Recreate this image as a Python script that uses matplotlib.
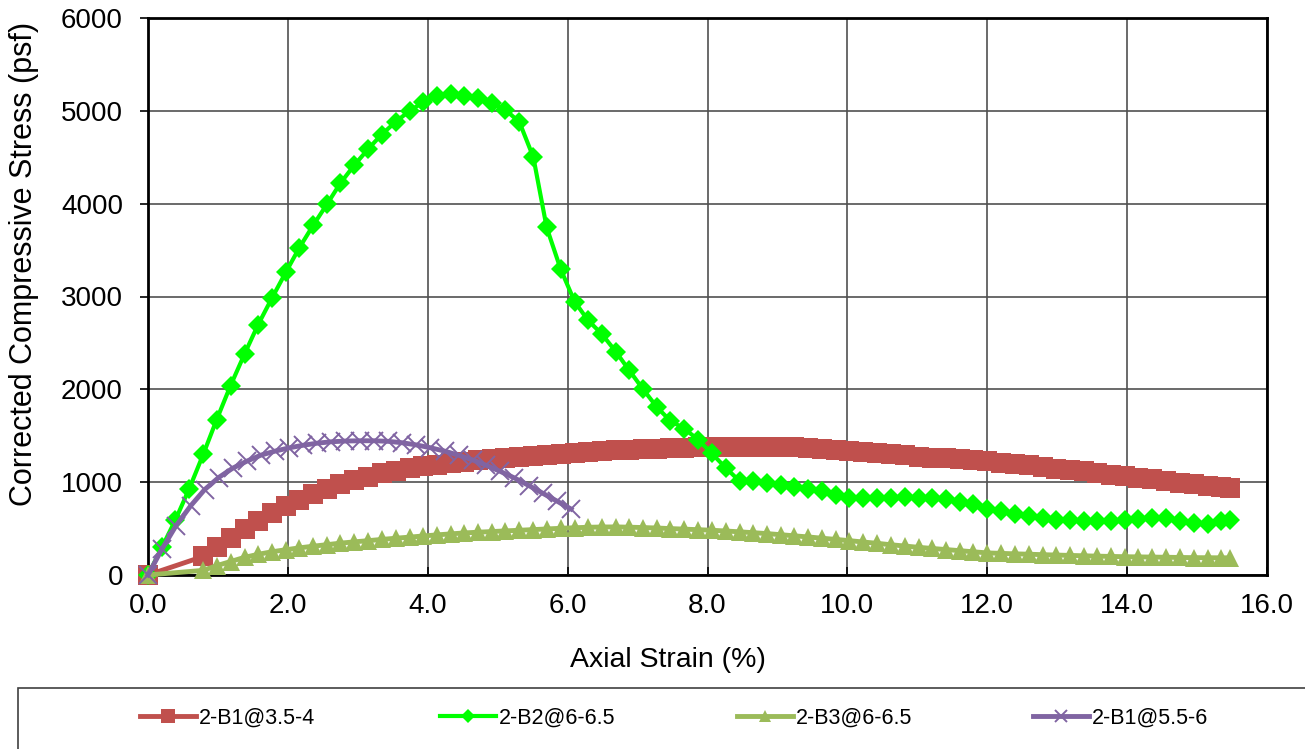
import matplotlib.pyplot as plt
from matplotlib.patches import Rectangle

plt.rcParams['font.family'] = ['Liberation Sans', 'DejaVu Sans']

# Axial strain (%) at each reading, shared by the first three specimens
strain = [0.00, 0.20, 0.39, 0.59, 0.79, 0.98, 1.18, 1.38, 1.57, 1.77,
          1.97, 2.16, 2.36, 2.56, 2.75, 2.95, 3.15, 3.34, 3.54, 3.74,
          3.93, 4.13, 4.33, 4.52, 4.72, 4.92, 5.11, 5.31, 5.51, 5.70,
          5.90, 6.10, 6.29, 6.49, 6.69, 6.88, 7.08, 7.28, 7.47, 7.67,
          7.87, 8.06, 8.26, 8.46, 8.65, 8.85, 9.05, 9.24, 9.44, 9.64,
          9.84, 10.03, 10.23, 10.43, 10.62, 10.82, 11.02, 11.21, 11.41, 11.61,
          11.80, 12.00, 12.20, 12.39, 12.59, 12.79, 12.98, 13.18, 13.38, 13.57,
          13.77, 13.97, 14.16, 14.36, 14.56, 14.75, 14.95, 15.15, 15.34, 15.47]

# 2-B1@3.5-4 : first reading at zero, then from 0.79 % onward
b1_35_strain = [strain[0]] + strain[4:]
b1_35_stress = [0,
                200, 300, 400, 495, 585, 665, 740, 810, 870, 925,
                975, 1020, 1060, 1095, 1125, 1150, 1172, 1190, 1207, 1221,
                1234, 1246, 1258, 1270, 1283, 1296, 1308, 1318, 1327, 1335,
                1343, 1350, 1356, 1361, 1366, 1370, 1374, 1377, 1380, 1382,
                1383, 1382, 1380, 1374, 1365, 1355, 1344, 1333, 1322, 1311,
                1300, 1288, 1276, 1265, 1255, 1245, 1235, 1225, 1210, 1195,
                1180, 1163, 1147, 1131, 1115, 1098, 1081, 1065, 1048, 1030,
                1012, 994, 975, 958, 945, 935]

# 2-B2@6-6.5
b2_stress = [0, 300, 590, 930, 1300, 1670, 2040, 2380, 2690, 2980,
             3260, 3520, 3765, 3995, 4220, 4415, 4590, 4745, 4880, 5000,
             5090, 5160, 5180, 5160, 5135, 5085, 5010, 4880, 4500, 3745,
             3295, 2945, 2745, 2595, 2405, 2205, 2000, 1805, 1660, 1575,
             1455, 1310, 1155, 1010, 1010, 990, 965, 950, 930, 900,
             865, 830, 833, 828, 833, 835, 833, 828, 815, 790,
             760, 715, 688, 660, 636, 611, 595, 592, 583, 582,
             582, 590, 600, 617, 617, 582, 555, 553, 580, 590]

# 2-B3@6-6.5 : same reading pattern as 2-B1@3.5-4
b3_strain = [strain[0]] + strain[4:]
b3_stress = [0,
             50, 100, 145, 190, 222, 250, 272, 292, 310, 327,
             343, 357, 370, 383, 396, 408, 420, 432, 443, 453,
             461, 468, 475, 482, 489, 496, 503, 509, 514, 517,
             518, 515, 511, 506, 500, 494, 488, 482, 474, 465,
             456, 446, 434, 422, 410, 396, 383, 370, 355, 341,
             326, 312, 298, 286, 274, 262, 250, 238, 233, 228,
             224, 219, 215, 211, 207, 203, 200, 197, 195, 193,
             191, 189, 187, 186, 185, 185]

# 2-B1@5.5-6
b1_55_strain = [0.00, 0.20, 0.40, 0.61, 0.81, 1.01, 1.21, 1.41, 1.61, 1.82,
                2.02, 2.22, 2.42, 2.62, 2.82, 3.03, 3.23, 3.43, 3.63, 3.83,
                4.03, 4.24, 4.44, 4.64, 4.84, 5.04, 5.24, 5.45, 5.65, 5.85,
                6.05]
b1_55_stress = [0, 280, 530, 745, 920, 1050, 1150, 1225, 1290, 1335,
                1370, 1398, 1420, 1435, 1443, 1446, 1446, 1440, 1425, 1402,
                1372, 1335, 1290, 1240, 1180, 1115, 1045, 962, 878, 795,
                710]

labels = ['2-B1@3.5-4', '2-B2@6-6.5', '2-B3@6-6.5', '2-B1@5.5-6']

fig = plt.figure(figsize=(13.05, 7.49), dpi=100)
ax = fig.add_axes([148 / 1305, 1 - 575 / 749, (1267 - 148) / 1305, (575 - 18) / 749])

l1, = ax.plot(b1_35_strain, b1_35_stress, color='#C0504D', lw=3.5, marker='s',
              markersize=15, markeredgewidth=0, clip_on=False, zorder=3)
l2, = ax.plot(strain, b2_stress, color='#00FF00', lw=3, marker='D',
              markersize=10.5, markeredgewidth=0, clip_on=False, zorder=4)
l3, = ax.plot(b3_strain, b3_stress, color='#9BBB59', lw=3.5, marker='^',
              markersize=13, markeredgewidth=0, clip_on=False, zorder=5)
l4, = ax.plot(b1_55_strain, b1_55_stress, color='#8064A2', lw=3.5, marker='x',
              markersize=13.5, markeredgewidth=1.4, clip_on=False, zorder=6)

ax.set_xlim(0, 16)
ax.set_ylim(0, 6000)
ax.set_xticks(range(0, 17, 2))
ax.set_xticklabels([f'{v:.1f}' for v in range(0, 17, 2)])
ax.set_yticks(range(0, 6001, 1000))
ax.grid(True, color='#505050', lw=1.2)
ax.set_axisbelow(True)
for s in ax.spines.values():
    s.set_linewidth(2)
    s.set_color('black')
ax.tick_params(axis='y', labelsize=20, direction='out', length=6, width=1.2, pad=12)
ax.tick_params(axis='x', labelsize=20, direction='in', length=6, width=1.2, pad=13)

ax.set_xlabel('Axial Strain (%)', fontsize=20.5)
ax.xaxis.set_label_coords((668 - 148) / (1267 - 148), -0.129)
ax.set_ylabel('Corrected Compressive Stress (psf)', fontsize=22)
ax.yaxis.set_label_coords(-0.097, (575 - 264) / (575 - 18))

# legend frame below the plot, running off the right and bottom edges
fig.patches.append(Rectangle((18 / 1305, -0.05), 1.0, 0.05 + 1 - 688 / 749,
                             transform=fig.transFigure, fill=False,
                             edgecolor='#404040', lw=1.2))
for line, lab, xpx in zip([l1, l2, l3, l4], labels, [140, 440, 737, 1033]):
    fig.legend([line], [lab], loc='center left', frameon=False,
               bbox_to_anchor=(xpx / 1305, 1 - 718 / 749), fontsize=15.5,
               handlelength=2.6, handletextpad=0.15, borderpad=0, borderaxespad=0,
               markerscale=0.65)

fig.savefig('out.png', dpi=100)
